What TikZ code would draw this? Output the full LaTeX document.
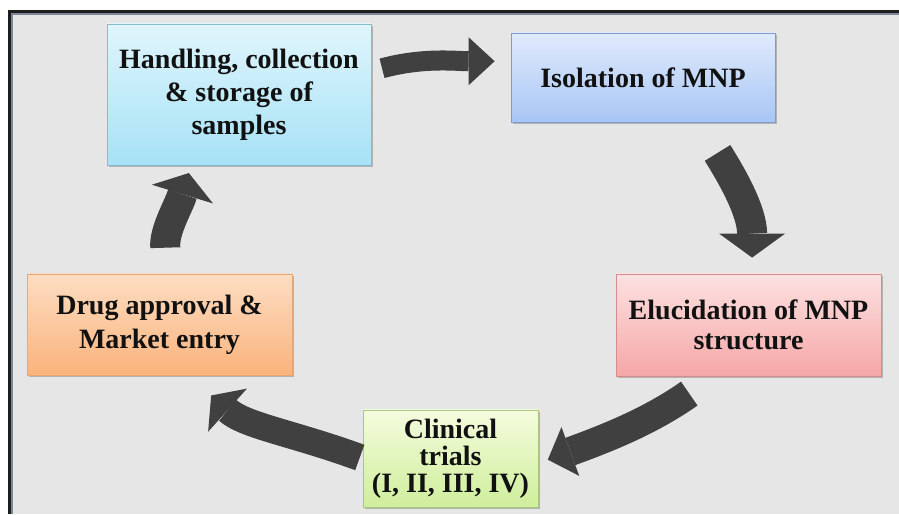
\documentclass[tikz,border=0pt]{standalone}
\usepackage{fontspec}
\setmainfont{Liberation Serif}
\usetikzlibrary{arrows.meta,shadows}
\definecolor{bggray}{HTML}{E6E6E6}
\definecolor{framedark}{HTML}{1E1E1E}
\definecolor{framelight}{HTML}{7D8796}
\definecolor{agray}{HTML}{404040}
\definecolor{txt}{HTML}{111111}
\definecolor{handT}{HTML}{E0F5FC}\definecolor{handB}{HTML}{A6E2F6}\definecolor{handD}{HTML}{86BCCF}
\definecolor{isoT}{HTML}{E0EAFC}\definecolor{isoB}{HTML}{A8C6F4}\definecolor{isoD}{HTML}{7F9CCB}
\definecolor{drugT}{HTML}{FDDDC2}\definecolor{drugB}{HTML}{FAB37C}\definecolor{drugD}{HTML}{E8A774}
\definecolor{eluT}{HTML}{FDE1E1}\definecolor{eluB}{HTML}{F5A7A7}\definecolor{eluD}{HTML}{D98C8C}
\definecolor{cliT}{HTML}{F4FCDE}\definecolor{cliB}{HTML}{CFEE9C}\definecolor{cliD}{HTML}{A9C882}
\tikzset{
  procbox/.style n args={3}{draw=#3, line width=0.8pt, top color=#1, bottom color=#2,
    inner sep=0pt, align=center, text=txt,
    drop shadow={shadow xshift=1.5pt, shadow yshift=-2pt, fill=black, opacity=0.22}},
  blk/.style n args={3}{draw=agray, line width=#1,
    -{Triangle[width=#2, length=#3, line width=0pt]}},
}
\begin{document}
\begin{tikzpicture}[x=1pt,y=1pt]
\useasboundingbox (0,0) rectangle (899,514);
\fill[white] (0,0) rectangle (899,514);
\fill[bggray] (11,0) rectangle (899,501);
\draw[framelight, line width=2pt] (12,0) -- (12,500) -- (899,500);
\draw[framedark, line width=3pt] (9.5,0) -- (9.5,502.5) -- (899,502.5);

\node[procbox={handT}{handB}{handD}, minimum width=264pt, minimum height=141pt,
  font=\bfseries\fontsize{28}{33}\selectfont] (hand) at (239,419.5)
  {Handling, collection\\ \& storage of\\ samples};
\node[procbox={isoT}{isoB}{isoD}, minimum width=264pt, minimum height=89pt,
  font=\bfseries\fontsize{28}{33}\selectfont] (iso) at (643,436.5)
  {Isolation of MNP};
\node[procbox={eluT}{eluB}{eluD}, minimum width=265pt, minimum height=102pt,
  font=\bfseries\fontsize{28}{30}\selectfont] (eluc) at (748.5,189)
  {Elucidation of MNP\\ structure};
\node[procbox={cliT}{cliB}{cliD}, minimum width=175pt, minimum height=97pt,
  font=\bfseries\fontsize{28}{27}\selectfont] (clin) at (450.5,55.5)
  {Clinical\\ trials\\ (I, II, III, IV)};
\node[procbox={drugT}{drugB}{drugD}, minimum width=265pt, minimum height=101pt,
  font=\bfseries\fontsize{28}{34}\selectfont] (drug) at (159.5,189.5)
  {Drug approval \&\\ Market entry};

\draw[blk={20pt}{48pt}{26pt}, shorten <=11pt, shorten >=16pt]
  (hand.10) to[out=15,in=180] (iso.173);
\draw[blk={30pt}{66pt}{24pt}, shorten <=36pt, shorten >=16pt]
  (iso.-39.5) to[out=-58,in=90] (eluc.86);
\draw[blk={29pt}{52pt}{24pt}, shorten <=30pt, shorten >=10pt]
  (eluc.-124) to[out=215,in=20] (clin.-3);
\draw[blk={27pt}{58pt}{22pt}, shorten <=3pt, shorten >=30pt]
  (clin.180) to[out=160,in=-42] (drug.-60.7);
\draw[blk={30pt}{64pt}{22pt}, shorten <=26pt, shorten >=8pt]
  (drug.81) to[out=95,in=-107] (hand.-124.5);
\end{tikzpicture}
\end{document}
